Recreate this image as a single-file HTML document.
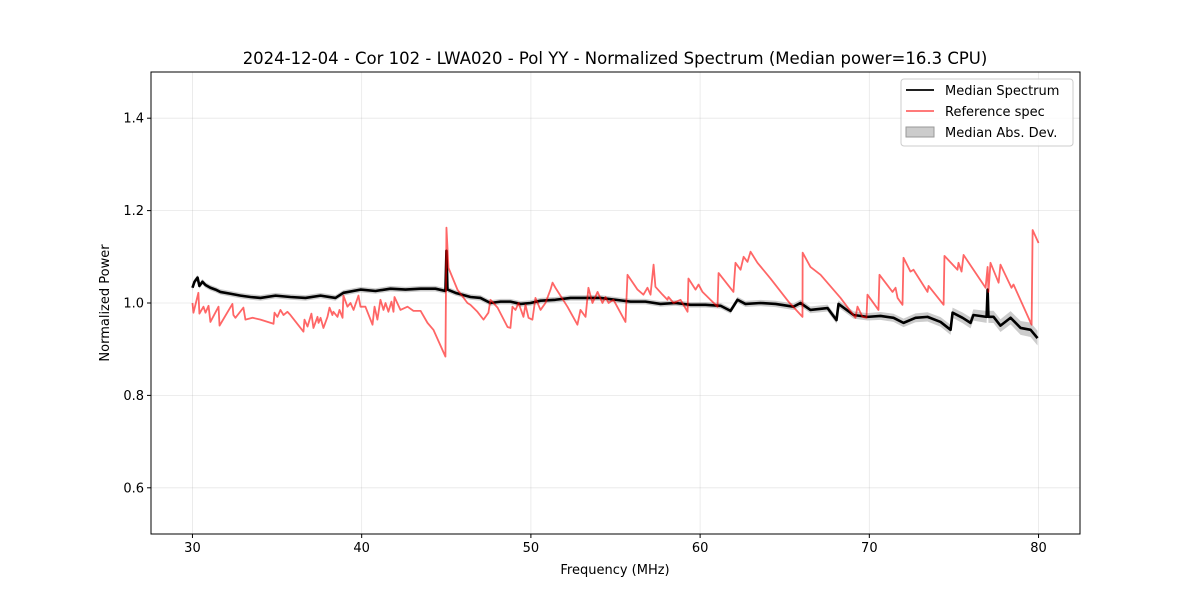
<!DOCTYPE html>
<html><head><meta charset="utf-8">
<style>
body{margin:0;background:#fff;}
svg{display:block;font-family:"DejaVu Sans","Liberation Sans",sans-serif;}
</style></head>
<body>
<svg id="chart" width="1200" height="600"></svg>
<script>
const xTicks=[30,40,50,60,70,80];
const yTicks=[0.6,0.8,1.0,1.2,1.4];
const yTickLabels=["0.6","0.8","1.0","1.2","1.4"];
const refFreq=[30.00,30.06,30.35,30.41,30.65,30.77,30.95,31.06,31.54,31.60,32.36,32.42,32.54,33.01,33.13,33.55,34.02,34.79,34.85,35.02,35.20,35.38,35.61,35.79,36.56,36.62,36.80,37.03,37.15,37.39,37.45,37.57,37.74,37.98,38.10,38.27,38.33,38.57,38.69,38.87,38.92,39.16,39.34,39.52,39.81,39.93,40.22,40.64,40.76,40.93,41.11,41.29,41.41,41.58,41.76,41.88,41.94,42.29,42.71,43.06,43.48,43.89,44.24,44.95,45.01,45.13,45.66,46.25,46.43,46.84,47.20,47.49,47.61,48.03,48.62,48.79,48.91,49.09,49.27,49.56,49.68,49.86,50.09,50.27,50.57,50.86,51.16,51.28,51.45,52.16,52.75,52.93,53.23,53.40,53.64,53.94,54.23,54.41,54.59,54.88,55.59,55.71,56.30,56.65,56.89,57.07,57.25,57.36,57.78,58.07,58.13,58.43,58.84,59.26,59.31,59.73,59.91,60.14,60.61,61.03,61.09,61.97,62.09,62.39,62.57,62.80,62.98,63.39,64.16,65.22,66.05,66.06,66.52,67.12,68.30,69.18,69.30,69.60,69.83,69.89,70.54,70.60,71.37,71.55,71.67,71.96,72.02,72.43,72.61,73.44,73.50,74.39,74.44,75.21,75.27,75.45,75.57,76.87,76.99,77.04,77.16,77.64,77.75,78.40,78.52,79.59,79.65,80.00];
const refPower=[1.000,0.979,1.022,0.977,0.992,0.979,0.994,0.959,0.992,0.951,0.998,0.974,0.968,0.990,0.964,0.968,0.964,0.955,0.979,0.970,0.985,0.974,0.981,0.974,0.938,0.964,0.949,0.977,0.946,0.970,0.957,0.968,0.946,0.970,0.990,0.974,0.981,0.970,0.985,0.968,1.016,0.992,1.000,0.985,1.016,0.992,0.992,0.953,0.992,0.964,1.007,0.985,1.000,0.981,1.003,0.981,1.013,0.985,0.992,0.983,0.983,0.957,0.942,0.884,1.163,1.076,1.029,1.000,0.996,0.981,0.964,0.979,1.007,0.990,0.948,0.946,0.992,0.985,1.000,0.970,0.996,0.968,0.964,1.011,0.985,1.000,1.029,1.044,1.033,0.992,0.953,0.985,0.970,1.033,1.000,1.024,1.000,1.013,1.000,1.007,0.959,1.061,1.029,1.018,1.033,1.018,1.083,1.035,1.018,1.007,1.013,1.000,1.007,0.981,1.053,1.029,1.040,1.024,1.007,0.992,1.065,1.024,1.087,1.072,1.100,1.089,1.111,1.087,1.053,1.003,0.970,1.109,1.078,1.061,1.011,0.968,0.992,0.970,0.968,1.018,0.985,1.061,1.024,1.033,1.011,0.996,1.098,1.068,1.072,1.024,1.037,0.996,1.102,1.072,1.087,1.068,1.104,1.033,1.078,1.024,1.087,1.044,1.083,1.033,1.040,0.953,1.158,1.130];
const medFreq=[30.00,30.12,30.30,30.41,30.59,30.77,31.06,31.36,31.65,32.25,32.84,33.43,34.02,34.91,35.79,36.68,37.57,38.45,38.92,39.93,40.82,41.70,42.59,43.48,44.36,44.95,45.01,45.07,45.54,46.43,47.02,47.61,48.20,48.79,49.39,49.98,50.57,51.45,52.34,53.23,54.11,55.00,55.89,56.77,57.66,58.55,59.43,60.32,61.21,61.80,62.21,62.68,63.57,64.46,65.52,65.93,66.52,67.53,68.06,68.18,69.07,69.89,70.66,71.43,72.02,72.73,73.44,74.21,74.80,74.92,75.51,75.98,76.15,76.93,76.99,77.04,77.34,77.75,78.35,78.94,79.53,79.94];
const medPower=[1.033,1.046,1.055,1.037,1.046,1.039,1.033,1.029,1.024,1.020,1.016,1.013,1.011,1.016,1.013,1.011,1.016,1.011,1.022,1.029,1.026,1.031,1.029,1.031,1.031,1.026,1.113,1.029,1.022,1.013,1.011,1.000,1.003,1.003,0.998,1.000,1.005,1.007,1.011,1.011,1.011,1.007,1.003,1.003,0.998,1.000,0.996,0.996,0.994,0.983,1.007,0.998,1.000,0.998,0.992,1.000,0.985,0.989,0.963,0.998,0.974,0.970,0.972,0.968,0.957,0.968,0.970,0.959,0.942,0.979,0.968,0.957,0.974,0.970,1.029,0.970,0.970,0.951,0.968,0.946,0.942,0.924];
const madFreq=[30,60,70,75,80];
const madDev=[0.006,0.006,0.008,0.011,0.016];

const svg=document.getElementById('chart');
const NS='http://www.w3.org/2000/svg';
const L=151,R=1080,T=72,B=534;
const xMin=27.55,xMax=82.45,yMin=0.5,yMax=1.5;
const X=v=>L+(v-xMin)/(xMax-xMin)*(R-L);
const Y=v=>B-(v-yMin)/(yMax-yMin)*(B-T);
function mk(tag,attrs,parent){const e=document.createElementNS(NS,tag);for(const k in attrs)e.setAttribute(k,attrs[k]);(parent||svg).appendChild(e);return e;}
function madAt(f){for(let i=1;i<madFreq.length;i++){if(f<=madFreq[i]){const t=(f-madFreq[i-1])/(madFreq[i]-madFreq[i-1]);return madDev[i-1]+t*(madDev[i]-madDev[i-1]);}}return madDev[madDev.length-1];}

let e=mk('text',{x:615,y:64,'text-anchor':'middle','font-size':16.5,fill:'#000'});
e.textContent='2024-12-04 - Cor 102 - LWA020 - Pol YY - Normalized Spectrum (Median power=16.3 CPU)';



const grid=mk('g',{});


xTicks.forEach(t=>{mk('line',{x1:X(t),x2:X(t),y1:T,y2:B,stroke:'#b0b0b0','stroke-opacity':0.3,'stroke-width':0.8},grid);});
yTicks.forEach(t=>{mk('line',{x1:L,x2:R,y1:Y(t),y2:Y(t),stroke:'#b0b0b0','stroke-opacity':0.3,'stroke-width':0.8},grid);});

let up=[],dn=[];
medFreq.forEach((f,i)=>{const d=madAt(f);up.push(X(f)+','+Y(medPower[i]+d));dn.unshift(X(f)+','+Y(medPower[i]-d));});
e=mk('polygon',{points:up.concat(dn).join(' '),fill:'#999','fill-opacity':0.5,stroke:'none'});



e=mk('polyline',{points:medFreq.map((f,i)=>X(f)+','+Y(medPower[i])).join(' '),fill:'none',stroke:'#000','stroke-width':2.6,'stroke-linejoin':'round'});



e=mk('polyline',{points:refFreq.map((f,i)=>X(f)+','+Y(refPower[i])).join(' '),fill:'none',stroke:'#ff0000','stroke-opacity':0.6,'stroke-width':1.8,'stroke-linejoin':'round'});



e=mk('rect',{x:L,y:T,width:R-L,height:B-T,fill:'none',stroke:'#000','stroke-width':1});



xTicks.forEach(t=>{
  mk('line',{x1:X(t),x2:X(t),y1:B,y2:B+4,stroke:'#000'});
  const tx=mk('text',{x:X(t),y:B+18,'text-anchor':'middle','font-size':13});
  tx.textContent=t;
  
  
});
yTicks.forEach((t,i)=>{
  mk('line',{x1:L-4,x2:L,y1:Y(t),y2:Y(t),stroke:'#000'});
  const tx=mk('text',{x:L-7,y:Y(t)+4.5,'text-anchor':'end','font-size':13});
  tx.textContent=yTickLabels[i];
  
  
});
e=mk('text',{x:615,y:574,'text-anchor':'middle','font-size':13});
e.textContent='Frequency (MHz)';


e=mk('text',{x:109,y:303,'text-anchor':'middle','font-size':13,transform:'rotate(-90 109 303)'});
e.textContent='Normalized Power';



const lg=mk('g',{});


mk('rect',{x:901,y:79,width:172,height:67,rx:3,fill:'#fff','fill-opacity':0.8,stroke:'#ccc'},lg);
mk('line',{x1:906,x2:934,y1:90,y2:90,stroke:'#000','stroke-width':1.8},lg);
mk('line',{x1:906,x2:934,y1:111,y2:111,stroke:'#ff0000','stroke-opacity':0.6,'stroke-width':1.8},lg);
mk('rect',{x:906,y:127,width:28,height:10,fill:'#999','fill-opacity':0.5,stroke:'#999'},lg);
[['Median Spectrum',95],['Reference spec',116],['Median Abs. Dev.',137]].forEach(([s,y])=>{
  const tx=mk('text',{x:945,y:y,'font-size':13},lg);tx.textContent=s;
  
  
});
</script>
</body></html>
